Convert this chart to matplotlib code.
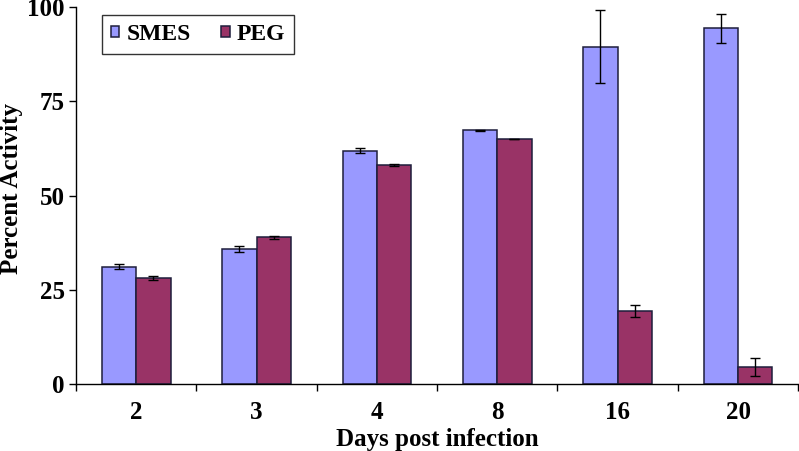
import numpy as np
import matplotlib.pyplot as plt

days = ['2', '3', '4', '8', '16', '20']
smes = [31.2, 35.8, 61.9, 67.3, 89.5, 94.3]
smes_err = [0.6, 0.8, 0.6, 0.2, 9.7, 3.9]
peg = [28.1, 38.9, 58.1, 65.0, 19.3, 4.6]
peg_err = [0.5, 0.3, 0.2, 0.1, 1.6, 2.4]

plt.rcParams['font.family'] = ['Liberation Serif', 'DejaVu Serif']
plt.rcParams['font.weight'] = 'bold'

fig = plt.figure(figsize=(7.99, 4.51), dpi=100)
ax = fig.add_axes([0.0951, 0.148, 0.9039, 0.8365])

x = np.arange(len(days))
w = 1 / 3.5
edge = '#1e1e3c'
ax.bar(x - w / 2, smes, w, color='#9999FF', edgecolor=edge, linewidth=1.1,
       label='SMES', zorder=2)
ax.bar(x + w / 2, peg, w, color='#993366', edgecolor=edge, linewidth=1.1,
       label='PEG', zorder=2)
ax.errorbar(x - w / 2, smes, yerr=smes_err, fmt='none', ecolor='black',
            elinewidth=1, capsize=3.5, capthick=1, zorder=3)
ax.errorbar(x + w / 2, peg, yerr=peg_err, fmt='none', ecolor='black',
            elinewidth=1, capsize=3.5, capthick=1, zorder=3)

ax.set_xlim(-0.5, len(days) - 0.5)
ax.set_ylim(0, 100)
ax.set_yticks([0, 25, 50, 75, 100])
ax.set_xticks(x)
ax.set_xticklabels(days)
ax.set_xticks(np.arange(len(days) + 1) - 0.5, minor=True)
ax.tick_params(axis='x', which='major', length=0, pad=12, labelsize=18)
ax.tick_params(axis='x', which='minor', length=5, width=1, direction='out')
ax.tick_params(axis='y', length=5, width=1, direction='out', pad=3,
               labelsize=18)
for s in ['top', 'right']:
    ax.spines[s].set_visible(False)
for s in ['left', 'bottom']:
    ax.spines[s].set_linewidth(1)

ax.set_xlabel('Days post infection', fontsize=18, fontweight='bold', labelpad=3)
ax.set_ylabel('Percent Activity', fontsize=18, fontweight='bold')
ax.yaxis.set_label_coords(-0.073, 0.52)

leg = ax.legend(loc='upper left', bbox_to_anchor=(0.036, 0.98), ncol=2,
                fontsize=17, frameon=True, fancybox=False, edgecolor='black',
                handlelength=0.34, handleheight=0.34, handletextpad=0.3,
                columnspacing=1.3, borderpad=0.4, borderaxespad=0)
leg.get_frame().set_linewidth(1)

fig.savefig('out.png', dpi=100)
